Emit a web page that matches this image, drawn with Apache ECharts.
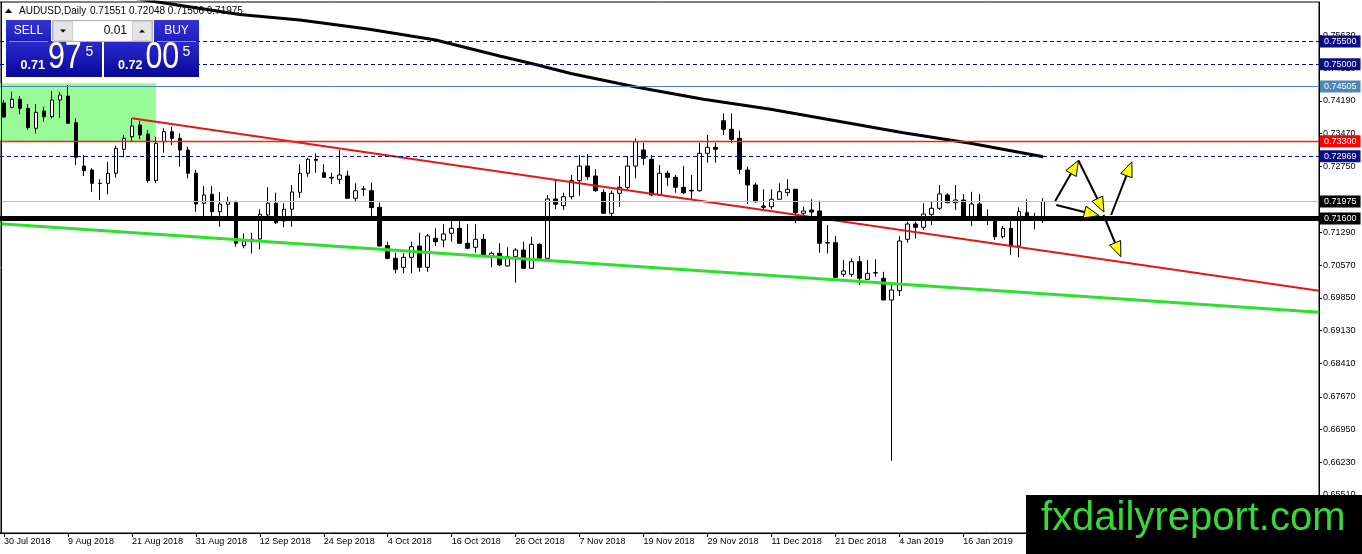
<!DOCTYPE html>
<html><head><meta charset="utf-8">
<script src="https://cdn.jsdelivr.net/npm/echarts@6/dist/echarts.min.js"></script>
<style>html,body{margin:0;padding:0;background:#fff;overflow:hidden}#c{width:1362px;height:554px}</style>
</head><body><div id="c"></div>
<script>
// ---------- DATA ----------
const monthDays = [
  ['Jul 2018', [30,31]],
  ['Aug 2018', [1,2,3,6,7,8,9,10,13,14,15,16,17,20,21,22,23,24,27,28,29,30,31]],
  ['Sep 2018', [3,4,5,6,7,10,11,12,13,14,17,18,19,20,21,24,25,26,27,28]],
  ['Oct 2018', [1,2,3,4,5,8,9,10,11,12,15,16,17,18,19,22,23,24,25,26,29,30,31]],
  ['Nov 2018', [1,2,5,6,7,8,9,12,13,14,15,16,19,20,21,22,23,26,27,28,29,30]],
  ['Dec 2018', [3,4,5,6,7,10,11,12,13,14,17,18,19,20,21,24,26,27,28,31]],
  ['Jan 2019', [2,3,4,7,8,9,10,11,14,15,16,17,18,21,22,23,24,25,28,29,30]]
];
const FUTURE_SLOTS = 34; // empty chart-shift space to the right of the last bar
const categories = [];
monthDays.forEach(([m, ds]) => ds.forEach(d => categories.push(d + ' ' + m)));
for (let k = 0; k < FUTURE_SLOTS; k++) categories.push('');

const opens = [
0.74144,0.74049,0.74226,0.74027,0.73587,0.73968,0.73842,0.74210,0.74298,0.73710,
0.72756,0.72668,0.72375,0.72375,0.72596,0.73124,0.73402,0.73659,0.73461,0.72433,
0.73292,0.73512,0.73366,0.73109,0.72596,0.71935,0.72133,0.71750,0.71913,0.71948,
0.71001,0.71111,0.71148,0.71677,0.71935,0.71545,0.71803,0.72177,0.72596,0.72904,
0.72609,0.72507,0.72463,0.72536,0.72045,0.72243,0.72212,0.71847,0.71001,0.70723,
0.70525,0.70745,0.70994,0.70525,0.71164,0.71126,0.71274,0.71384,0.71054,0.70966,
0.71142,0.70774,0.70833,0.70554,0.70759,0.70906,0.70503,0.71032,0.70723,0.72030,
0.71882,0.72080,0.72433,0.72756,0.72536,0.72177,0.71715,0.72155,0.72287,0.72756,
0.73109,0.72904,0.72118,0.72596,0.72507,0.72287,0.72221,0.72212,0.73036,0.73168,
0.73754,0.73565,0.73366,0.72668,0.72338,0.71875,0.71860,0.72023,0.72168,0.72243,
0.71715,0.71787,0.71765,0.71067,0.71067,0.70371,0.70371,0.70648,0.70261,0.70406,
0.70283,0.69805,0.70010,0.71142,0.71479,0.71406,0.71693,0.71825,0.72118,0.71948,
0.72007,0.71640,0.71919,0.71604,0.71582,0.71199,0.71384,0.70994,0.71728,0.71567,
0.71551];
const closes = [
0.73836,0.74226,0.74027,0.73600,0.73939,0.73842,0.74210,0.74320,0.73697,0.72948,
0.72653,0.72375,0.72368,0.72596,0.73146,0.73366,0.73637,0.73439,0.72433,0.73256,
0.73512,0.73366,0.73109,0.72596,0.71919,0.72118,0.71750,0.71919,0.71970,0.71054,
0.71104,0.71142,0.71693,0.71935,0.71507,0.71803,0.72184,0.72596,0.72904,0.72882,
0.72507,0.72492,0.72558,0.72045,0.72212,0.72250,0.71838,0.70994,0.70723,0.70481,
0.70745,0.70979,0.70525,0.71215,0.71089,0.71259,0.71384,0.71054,0.70944,0.71142,
0.70796,0.70833,0.70576,0.70759,0.70906,0.70503,0.71032,0.70723,0.72030,0.71913,
0.72080,0.72433,0.72756,0.72521,0.72212,0.71715,0.72155,0.72287,0.72756,0.73292,
0.72926,0.72118,0.72596,0.72507,0.72287,0.72168,0.72206,0.73036,0.73168,0.73124,
0.73565,0.73344,0.72684,0.72338,0.71970,0.71847,0.72023,0.72190,0.72243,0.71728,
0.71765,0.71743,0.71054,0.71060,0.70305,0.70444,0.70648,0.70283,0.70393,0.70400,
0.69805,0.70025,0.71104,0.71479,0.71406,0.71699,0.71825,0.72140,0.71948,0.72007,
0.71640,0.71919,0.71604,0.71598,0.71199,0.71384,0.70994,0.71750,0.71604,0.71560,
0.71975];
const lows = [
0.73814,0.74027,0.73895,0.73549,0.73477,0.73732,0.73807,0.73820,0.73697,0.72778,
0.72536,0.72190,0.72007,0.72133,0.72499,0.72948,0.73307,0.73344,0.72389,0.72375,
0.73049,0.73219,0.72741,0.72485,0.71750,0.71640,0.71640,0.71419,0.71640,0.70979,
0.70944,0.70833,0.70922,0.71604,0.71479,0.71406,0.71419,0.72058,0.72521,0.72609,
0.72507,0.72360,0.72360,0.72045,0.71985,0.72096,0.71640,0.70979,0.70701,0.70393,
0.70393,0.70393,0.70428,0.70428,0.70994,0.70966,0.71089,0.71054,0.70922,0.70847,
0.70774,0.70525,0.70554,0.70538,0.70186,0.70503,0.70503,0.70723,0.70723,0.71803,
0.71787,0.72023,0.72102,0.72448,0.72190,0.71715,0.71604,0.71860,0.72243,0.72485,
0.72778,0.72096,0.72118,0.72316,0.72168,0.72140,0.72007,0.72190,0.72829,0.72829,
0.73439,0.73256,0.72580,0.71919,0.71948,0.71803,0.71803,0.72023,0.72096,0.71494,
0.71677,0.71567,0.70847,0.70833,0.70283,0.70318,0.70318,0.70135,0.70245,0.70318,
0.69805,0.66265,0.69893,0.71067,0.71164,0.71347,0.71457,0.71787,0.71948,0.71787,
0.71640,0.71435,0.71604,0.71457,0.71126,0.71164,0.70796,0.70745,0.71582,0.71362,
0.71506];
const highs = [
0.74210,0.74393,0.74298,0.74122,0.74122,0.74063,0.74408,0.74393,0.74540,0.73807,
0.72999,0.72706,0.72470,0.72851,0.73203,0.73439,0.73807,0.73754,0.73549,0.73402,
0.73587,0.73622,0.73477,0.73181,0.72668,0.72316,0.72316,0.72177,0.72080,0.71992,
0.71274,0.71287,0.71803,0.72287,0.72168,0.71935,0.72338,0.72794,0.72939,0.73036,
0.72794,0.72609,0.73109,0.72653,0.72375,0.72316,0.72389,0.71948,0.71089,0.70847,
0.70833,0.71089,0.71287,0.71259,0.71384,0.71472,0.71545,0.71552,0.71472,0.71472,
0.71259,0.70869,0.71054,0.70966,0.70944,0.71089,0.71199,0.71054,0.72118,0.72463,
0.72168,0.72558,0.72999,0.73021,0.72684,0.72243,0.72212,0.72536,0.72977,0.73366,
0.73270,0.72999,0.72778,0.72653,0.72558,0.72756,0.72558,0.73270,0.73439,0.73270,
0.73917,0.73917,0.73534,0.72741,0.72389,0.72243,0.72243,0.72375,0.72463,0.72243,
0.71860,0.72023,0.71992,0.71457,0.71215,0.70686,0.70723,0.70774,0.70686,0.70701,
0.70428,0.70173,0.71215,0.71530,0.71530,0.71935,0.71970,0.72338,0.72155,0.72338,
0.72140,0.72190,0.72140,0.71803,0.71604,0.71435,0.71655,0.71847,0.72023,0.71728,
0.72048];

// moving average readings: [bar index, price]
const maPoints = [[10,0.76630],[18,0.76402],[29.5,0.76093],[37,0.75972],[45.5,0.75774],[54,0.75532],
  [62,0.75179],[66.25,0.75003],[70.9,0.74794],[79.2,0.74490],[87.5,0.74226],[95.9,0.74005],
  [104.2,0.73748],[112.5,0.73490],[120.9,0.73256],[130,0.72961]];
// trend lines: [bar index, price]
const redTrend = [[16,0.73807],[164.5,0.70010]];
const greenTrend = [[-0.5,0.71485],[164.5,0.69534]];
// highlighted zone: [bar, price] corners
const zoneCorners = [[-0.5,0.74578],[19,0.73300]];
// horizontal price levels
const levelPrices = [0.75500, 0.75000, 0.74505, 0.73300, 0.72969, 0.71975, 0.71600];
// arrows: [fromBar, fromPrice, toBar, toPrice]
const arrowSegments = [
  [131.5,0.71985,134.41,0.72878],
  [134.41,0.72878,137.6,0.71740],
  [131.63,0.71897,137.0,0.71662],
  [138.5,0.71677,141.09,0.72851],
  [137.54,0.71677,139.71,0.70759]
];
// price-axis tick labels
const yTicks = [0.6551,0.6623,0.6695,0.6767,0.6841,0.6913,0.6985,0.7057,0.7129,0.7201,0.7275,0.7347,0.7419,0.7491,0.7563];
const symbolName = 'AUDUSD,Daily';
const bidParts = ['0.71','97','5'];
const askParts = ['0.72','00','5'];
const lotText = '0.01';
const watermark = 'fxdailyreport.com';

// ---------- VIEW ----------
const Y_MIN = 0.646727, Y_MAX = 0.763687;
const FONT = '"Liberation Sans", Arial, sans-serif';
const N = categories.length;
const last = opens.length - 1;
const candleData = opens.map((o, i) => [o, closes[i], lows[i], highs[i]]);
const isLabelIdx = (i) => i % 8 === 0 && categories[i] !== '';

const levelStyles = [
  {line:{color:'#0b0b84',width:1,type:[4,3]}, tag:'#0b0b84'},
  {line:{color:'#0b0b84',width:1,type:[4,3]}, tag:'#0b0b84'},
  {line:{color:'#4682b4',width:1,type:'solid'}, tag:'#4f87b8'},
  {line:{color:'#ff1a1a',width:1.4,type:'solid'}, tag:'#ff0000'},
  {line:{color:'#0b0b84',width:1,type:[4,3]}, tag:'#0b0b84'},
  {line:{color:'#c0c0c0',width:1,type:'solid'}, tag:'#000000'},
  {line:{color:'#000000',width:5,type:'solid'}, tag:'#000000'}
];

function renderArrow(params, api) {
  const p1 = api.coord([api.value(0), api.value(1)]);
  const p2 = api.coord([api.value(2), api.value(3)]);
  const dx = p2[0]-p1[0], dy = p2[1]-p1[1], len = Math.hypot(dx, dy) || 1;
  const ux = dx/len, uy = dy/len, nx = -uy, ny = ux;
  const L = 15, W = 6;
  const bx = p2[0]-ux*L, by = p2[1]-uy*L;
  return {type:'group', children:[
    {type:'line', shape:{x1:p1[0],y1:p1[1],x2:p2[0]-ux*4,y2:p2[1]-uy*4}, style:{stroke:'#000',lineWidth:2}},
    {type:'polygon', shape:{points:[[p2[0],p2[1]],[bx+nx*W,by+ny*W],[bx-nx*W,by-ny*W]]},
     style:{fill:'#ffff00',stroke:'#000',lineWidth:1}}
  ]};
}

const headGrad = () => new echarts.graphic.LinearGradient(0,0,0,1,[{offset:0,color:'#3434d6'},{offset:1,color:'#1e1ebe'}]);
const priceGrad = () => new echarts.graphic.LinearGradient(0,0,0,1,[{offset:0,color:'#2a2acc'},{offset:1,color:'#07079a'}]);
const white = '#ffffff';

const graphics = [
  {type:'line', shape:{x1:1.5,y1:2,x2:1.5,y2:533}, style:{stroke:'#000',lineWidth:1}, z:50, silent:true},
  // header
  {type:'polygon', shape:{points:[[5,13],[12,13],[8.5,8.5]]}, style:{fill:'#000'}, z:60, silent:true},
  {type:'text', x:19, y:11, style:{text:symbolName, fill:'#000', font:'10px '+FONT, verticalAlign:'middle'}, z:60, silent:true},
  {type:'text', x:90, y:11, style:{text:[opens[last],highs[last],lows[last],closes[last]].map(v=>v.toFixed(5)).join(' '), fill:'#000', font:'10px '+FONT, verticalAlign:'middle'}, z:60, silent:true},
  // one-click trading panel
  {type:'rect', shape:{x:6,y:20,width:45,height:22}, style:{fill:headGrad()}, z:60, silent:true},
  {type:'text', x:28.5, y:31, style:{text:'SELL', fill:white, font:'12px '+FONT, align:'center', verticalAlign:'middle'}, z:61, silent:true},
  {type:'rect', shape:{x:52.5,y:20.5,width:100,height:21}, style:{fill:'#f0f0f0',stroke:'#b4b4b4',lineWidth:1}, z:60, silent:true},
  {type:'rect', shape:{x:53.5,y:21.5,width:19,height:19}, style:{fill:'#e4e4e4',stroke:'#cfcfcf',lineWidth:1}, z:61, silent:true},
  {type:'polygon', shape:{points:[[60,29.5],[66,29.5],[63,32.5]]}, style:{fill:'#000'}, z:62, silent:true},
  {type:'rect', shape:{x:73.5,y:21.5,width:58,height:19}, style:{fill:'#fff'}, z:61, silent:true},
  {type:'text', x:127, y:31, style:{text:lotText, fill:'#000', font:'12px '+FONT, align:'right', verticalAlign:'middle'}, z:62, silent:true},
  {type:'rect', shape:{x:132.5,y:21.5,width:19,height:19}, style:{fill:'#e4e4e4',stroke:'#cfcfcf',lineWidth:1}, z:61, silent:true},
  {type:'polygon', shape:{points:[[139,32.5],[145,32.5],[142,29.5]]}, style:{fill:'#000'}, z:62, silent:true},
  {type:'rect', shape:{x:154,y:20,width:45,height:22}, style:{fill:headGrad()}, z:60, silent:true},
  {type:'text', x:176.5, y:31, style:{text:'BUY', fill:white, font:'12px '+FONT, align:'center', verticalAlign:'middle'}, z:61, silent:true},
  {type:'rect', shape:{x:6,y:42,width:96,height:35}, style:{fill:priceGrad()}, z:60, silent:true},
  {type:'rect', shape:{x:104,y:42,width:95,height:35}, style:{fill:priceGrad()}, z:60, silent:true},
  {type:'line', shape:{x1:9,y1:41.5,x2:48,y2:41.5}, style:{stroke:'#8c8cf0',lineWidth:1}, z:61, silent:true},
  {type:'line', shape:{x1:157,y1:41.5,x2:196,y2:41.5}, style:{stroke:'#8c8cf0',lineWidth:1}, z:61, silent:true},
  {type:'text', x:20.5, y:65.5, style:{text:bidParts[0], fill:white, font:'bold 12.5px '+FONT, verticalAlign:'middle'}, z:61, silent:true},
  {type:'text', x:48, y:57.5, scaleX:0.82, style:{text:bidParts[1], fill:white, font:'37px '+FONT, verticalAlign:'middle'}, z:61, silent:true},
  {type:'text', x:85.5, y:52, style:{text:bidParts[2], fill:white, font:'14px '+FONT, verticalAlign:'middle'}, z:61, silent:true},
  {type:'text', x:118, y:65.5, style:{text:askParts[0], fill:white, font:'bold 12.5px '+FONT, verticalAlign:'middle'}, z:61, silent:true},
  {type:'text', x:145.5, y:57.5, scaleX:0.82, style:{text:askParts[1], fill:white, font:'37px '+FONT, verticalAlign:'middle'}, z:61, silent:true},
  {type:'text', x:182.5, y:52, style:{text:askParts[2], fill:white, font:'14px '+FONT, verticalAlign:'middle'}, z:61, silent:true},
  // watermark
  {type:'rect', shape:{x:1026,y:495,width:336,height:59}, style:{fill:'#000'}, z:80, silent:true},
  {type:'text', x:1041, y:519, style:{text:watermark, fill:'#38d838', font:'40px '+FONT, verticalAlign:'middle'}, z:81, silent:true}
];

const chart = echarts.init(document.getElementById('c'), null, {renderer:'canvas'});
chart.setOption({
  animation:false,
  backgroundColor:'#ffffff',
  textStyle:{fontFamily:FONT},
  grid:{left:-1, right:43, top:2, bottom:21, show:true, borderColor:'#000', borderWidth:1, backgroundColor:'transparent'},
  xAxis:[
    {type:'category', data:categories, boundaryGap:true,
     axisLine:{show:true, onZero:false, lineStyle:{color:'#000', width:1}},
     axisTick:{show:true, alignWithLabel:true, interval:(i)=>isLabelIdx(i), length:4, lineStyle:{color:'#000'}},
     axisLabel:{interval:(i)=>isLabelIdx(i), align:'left', color:'#000', fontSize:9, margin:4, fontFamily:FONT},
     splitLine:{show:false}},
    {type:'value', min:-0.5, max:N-0.5, show:false, axisLine:{onZero:false}}
  ],
  yAxis:{type:'value', position:'right', min:Y_MIN, max:Y_MAX,
    axisLine:{show:true, onZero:false, lineStyle:{color:'#000', width:1}},
    axisTick:{show:true, length:3, customValues:yTicks, lineStyle:{color:'#000'}},
    axisLabel:{customValues:yTicks, formatter:(v)=>v.toFixed(5), color:'#000', fontSize:9, margin:4, fontFamily:FONT},
    splitLine:{show:false}},
  series:[
    {type:'candlestick', xAxisIndex:0, data:candleData, barWidth:4, silent:true, z:2,
     itemStyle:{color:'#ffffff', color0:'#000000', borderColor:'#000000', borderColor0:'#000000', borderColorDoji:'#000000', borderWidth:1}},
    {type:'line', xAxisIndex:1, data:maPoints, symbol:'none', silent:true, z:3,
     lineStyle:{color:'#000', width:3},
     markArea:{silent:true, precision:6, itemStyle:{color:'#98fb98'},
       data:[[{xAxis:zoneCorners[0][0], yAxis:zoneCorners[0][1]},{xAxis:zoneCorners[1][0], yAxis:zoneCorners[1][1]}]]}},
    {type:'line', xAxisIndex:1, data:greenTrend, symbol:'none', silent:true, z:3,
     lineStyle:{color:'#2ee02e', width:3}},
    {type:'line', xAxisIndex:1, data:redTrend, symbol:'none', silent:true, z:3, clip:false,
     lineStyle:{color:'#e01818', width:2},
     markLine:{symbol:['none','none'], precision:6, silent:true, animation:false, emphasis:{disabled:true},
       data:levelPrices.map((p,k)=>({yAxis:p, lineStyle:levelStyles[k].line,
         label:{show:true, position:'end', distance:1, formatter:()=>p.toFixed(5),
           backgroundColor:levelStyles[k].tag, color:'#fff', fontSize:9, fontFamily:FONT, padding:[1,4,1,4], lineHeight:10}}))}},
    {type:'custom', xAxisIndex:1, data:arrowSegments, renderItem:renderArrow, encode:{x:[0,2], y:[1,3]}, z:6, clip:false, silent:true}
  ],
  graphic:{elements:graphics}
});
</script>
</body></html>
